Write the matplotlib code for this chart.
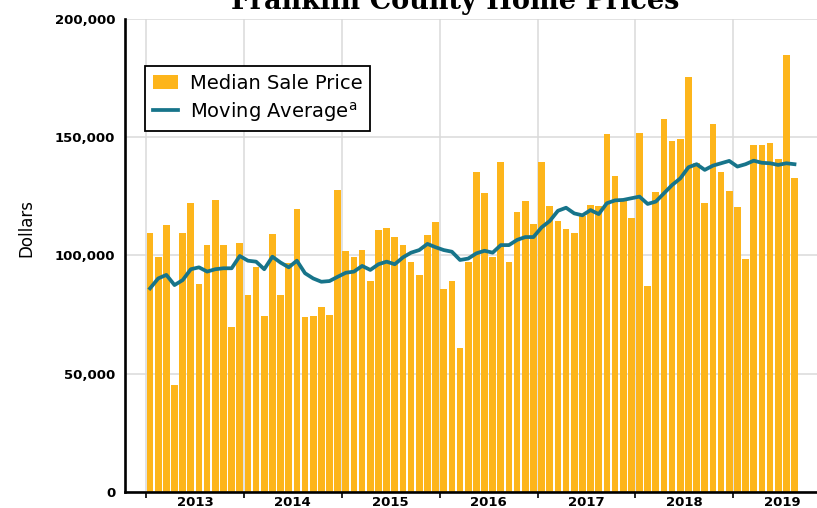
import matplotlib
matplotlib.use("Agg")
import matplotlib.pyplot as plt
from matplotlib.ticker import FuncFormatter, FixedLocator
import numpy as np

# Monthly data, Jan 2013 .. Aug 2019
median_price = [
    109.4, 99.5, 112.9, 45.4, 109.7, 122.1, 88.0, 104.4, 123.5, 104.4, 69.9, 105.1,   # 2013
    83.2, 95.0, 74.6, 108.9, 83.4, 96.7, 119.5, 74.0, 74.6, 78.2, 74.8, 127.7,        # 2014
    101.9, 99.4, 102.2, 89.3, 110.6, 111.5, 107.7, 104.4, 97.3, 91.9, 108.5, 114.0,   # 2015
    85.8, 89.3, 60.9, 97.4, 135.3, 126.4, 99.5, 139.4, 97.4, 118.4, 123.0, 113.2,     # 2016
    139.4, 120.9, 114.5, 111.3, 109.6, 116.7, 121.5, 120.9, 151.5, 133.5, 123.5, 116.0,  # 2017
    151.6, 87.0, 127.0, 157.6, 148.6, 149.1, 175.6, 139.0, 122.1, 155.6, 135.4, 127.4,   # 2018
    120.6, 98.5, 146.6, 146.6, 147.6, 140.7, 184.8, 132.9,                              # 2019
]
moving_avg = [
    86.1, 90.3, 91.8, 87.5, 89.6, 94.2, 95.0, 93.2, 94.2, 94.6, 94.6, 99.8,
    97.8, 97.4, 94.2, 99.5, 97.0, 95.0, 97.8, 92.5, 90.3, 88.9, 89.2, 91.0,
    92.7, 93.2, 95.6, 93.9, 96.3, 97.4, 96.3, 99.2, 101.2, 102.3, 104.9, 103.5,
    102.3, 101.6, 98.1, 98.7, 100.9, 102.0, 101.2, 104.4, 104.4, 106.6, 107.8, 107.8,
    111.9, 114.6, 118.9, 120.2, 117.8, 117.0, 119.2, 117.5, 122.1, 123.3, 123.5, 124.2,
    124.9, 121.8, 122.8, 126.3, 129.8, 132.6, 137.3, 138.6, 136.2, 138.0, 139.0, 140.0,
    137.6, 138.6, 140.1, 139.2, 139.0, 138.3, 139.0, 138.6,
]
years = ["2013", "2014", "2015", "2016", "2017", "2018", "2019"]
y_ticks = [0, 50000, 100000, 150000, 200000]

prices = np.array(median_price) * 1000
ma = np.array(moving_avg) * 1000
x = np.arange(len(prices))

BAR = "#FDB51B"
TEAL = "#17748A"

fig = plt.figure(figsize=(8.17, 5.08), dpi=100)
ax = fig.add_axes([125 / 817, 16 / 508, 692 / 817, 473 / 508])

bars = ax.bar(x, prices, width=0.82, color=BAR, zorder=2)
line, = ax.plot(x, ma, color=TEAL, lw=2.7, zorder=3, solid_joinstyle="round")

ax.set_xlim(-3.07, 81.76)
ax.set_ylim(0, 200000)

# year boundaries as major ticks (gridlines), labels at mid-year
ax.xaxis.set_major_locator(FixedLocator([-0.5 + 12 * k for k in range(len(years))]))
ax.xaxis.set_major_formatter(FuncFormatter(lambda v, p: ""))
ax.set_xticks([5.5 + 12 * k for k in range(len(years))], minor=True)
ax.set_xticklabels(years, minor=True, fontsize=9.5, fontweight="bold")
ax.tick_params(axis="x", which="major", length=4, width=1.2, color="black", direction="out")
ax.tick_params(axis="x", which="minor", length=0, pad=3)

ax.set_yticks(y_ticks)
ax.yaxis.set_major_formatter(FuncFormatter(lambda v, p: f"{int(v):,}"))
for lbl in ax.get_yticklabels():
    lbl.set_fontweight("bold")
    lbl.set_fontsize(9.5)
ax.tick_params(axis="y", length=0, pad=7)

ax.grid(True, which="major", color="#DADADA", lw=1.1, zorder=0)
ax.set_axisbelow(True)

for s in ["top", "right"]:
    ax.spines[s].set_visible(False)
for s in ["left", "bottom"]:
    ax.spines[s].set_linewidth(1.9)
    ax.spines[s].set_color("black")
    ax.spines[s].set_zorder(5)

ax.set_ylabel("Dollars", fontsize=12)
ax.yaxis.set_label_coords(-0.129, 0.558)

leg = ax.legend([bars, line], ["Median Sale Price", "Moving Average$^{\\mathrm{a}}$"],
                loc="upper left", bbox_to_anchor=(0.029, 0.9006), borderaxespad=0,
                fontsize=14, frameon=True, fancybox=False, edgecolor="black",
                handlelength=1.3, handletextpad=0.6, borderpad=0.4, labelspacing=0.35)
leg.get_frame().set_linewidth(1.3)
leg.get_frame().set_alpha(1)

fig.text(455 / 817, 1 - 9 / 508, "Franklin County Home Prices", ha="center",
         va="baseline", fontsize=19.5, fontweight="bold", family="DejaVu Serif")

fig.savefig("out.png", dpi=100)
